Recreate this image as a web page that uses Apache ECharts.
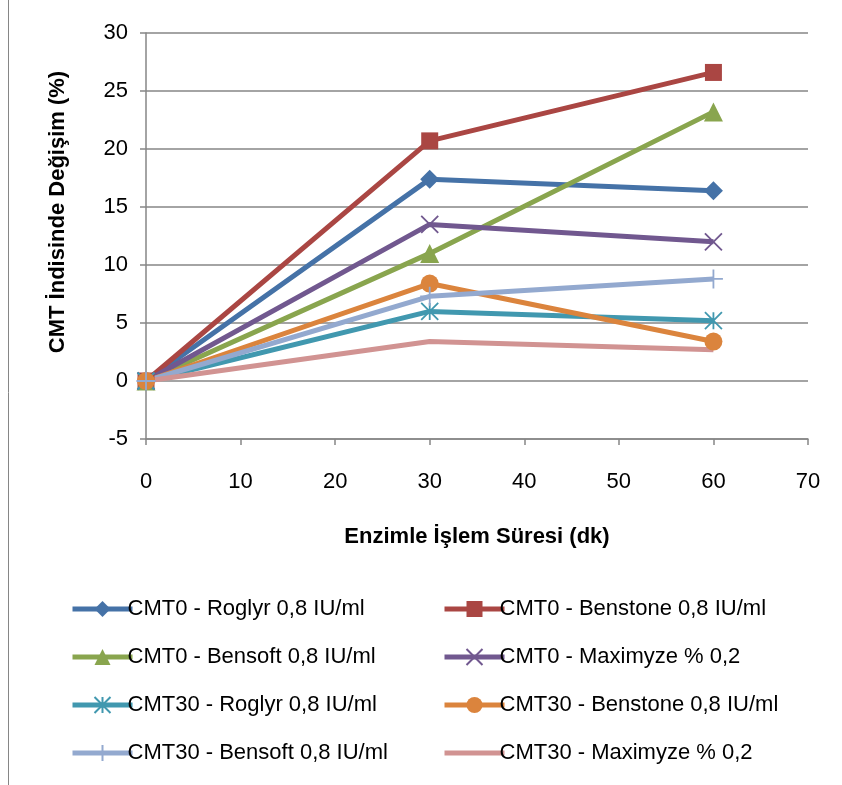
<!DOCTYPE html>
<html><head><meta charset="utf-8">
<script src="https://cdn.jsdelivr.net/npm/echarts@6/dist/echarts.min.js"></script>
<style>html,body{margin:0;padding:0;background:#fff}#c{width:842px;height:785px}</style>
</head><body><div id="c"></div>
<script>
const xValues = [0, 30, 60];
const seriesNames = [
  'CMT0 - Roglyr 0,8 IU/ml', 'CMT0 - Benstone 0,8 IU/ml',
  'CMT0 - Bensoft 0,8 IU/ml', 'CMT0 - Maximyze % 0,2',
  'CMT30 - Roglyr 0,8 IU/ml', 'CMT30 - Benstone 0,8 IU/ml',
  'CMT30 - Bensoft 0,8 IU/ml', 'CMT30 - Maximyze % 0,2'
];
const cmt0Roglyr = [0, 17.4, 16.4];
const cmt0Benstone = [0, 20.7, 26.6];
const cmt0Bensoft = [0, 11.0, 23.2];
const cmt0Maximyze = [0, 13.5, 12.0];
const cmt30Roglyr = [0, 6.0, 5.2];
const cmt30Benstone = [0, 8.4, 3.4];
const cmt30Bensoft = [0, 7.3, 8.8];
const cmt30Maximyze = [0, 3.4, 2.7];
const yTicks = [-5, 0, 5, 10, 15, 20, 25, 30];
const xTicks = [0, 10, 20, 30, 40, 50, 60, 70];
const xTitle = 'Enzimle İşlem Süresi (dk)';
const yTitle = 'CMT İndisinde Değişim (%)';

const allData = [cmt0Roglyr, cmt0Benstone, cmt0Bensoft, cmt0Maximyze, cmt30Roglyr, cmt30Benstone, cmt30Bensoft, cmt30Maximyze];
const colors = ['#4572A7', '#AA4643', '#89A54E', '#71588F', '#4198AF', '#DB843D', '#93A9CF', '#D19392'];
const symbols = [
  'diamond', 'rect', 'triangle',
  'path://M0,0 L10,10 M10,0 L0,10',
  'path://M0,0 L10,10 M10,0 L0,10 M5,0 L5,10',
  'circle',
  'path://M5,0 L5,10 M0,5 L10,5',
  'circle'
];
const sizes = [19, 17, 19, 17, 17, 18, 19, 0];
const stroked = [false, false, false, true, true, false, true, false];

const font = '"Liberation Sans", Arial, sans-serif';
const series = seriesNames.map((n, i) => ({
  name: n,
  type: 'line',
  data: xValues.map((x, j) => [x, allData[i][j]]),
  symbol: symbols[i],
  symbolSize: sizes[i],
  showSymbol: i !== 7,
  lineStyle: { color: colors[i], width: 5 },
  itemStyle: stroked[i]
    ? { color: 'rgba(0,0,0,0)', borderColor: colors[i], borderWidth: 1.8 }
    : (i === 7 ? { color: 'rgba(0,0,0,0)', borderWidth: 0 } : { color: colors[i], borderWidth: 0 }),
  emphasis: { disabled: true },
  animation: false
}));

const chart = echarts.init(document.getElementById('c'));
const legendCommon = {
  orient: 'vertical', top: 593, itemWidth: 60, itemHeight: 20, itemGap: 26,
  lineStyle: { width: 5 },
  textStyle: { fontFamily: font, fontSize: 22, color: '#000', padding: [0, 0, 0, -10] },
  selectedMode: false
};
chart.setOption({
  animation: false,
  color: colors,
  grid: { left: 146, right: 34, top: 33, bottom: 346, containLabel: false },
  xAxis: {
    type: 'value', min: 0, max: 70, interval: 10,
    name: xTitle, nameLocation: 'middle', nameGap: 87,
    nameTextStyle: { fontFamily: font, fontSize: 22, fontWeight: 'bold', color: '#000' },
    axisLine: { onZero: false, lineStyle: { color: '#868686', width: 1.5 } },
    axisTick: { show: true, length: 6, lineStyle: { color: '#868686', width: 1.5 } },
    axisLabel: { fontFamily: font, fontSize: 22, color: '#000', margin: 32,
      formatter: v => xTicks.includes(v) ? String(v) : '' },
    splitLine: { show: false }
  },
  yAxis: {
    type: 'value', min: -5, max: 30, interval: 5,
    axisLine: { show: true, onZero: false, lineStyle: { color: '#868686', width: 1.5 } },
    axisTick: { show: true, length: 6, lineStyle: { color: '#868686', width: 1.5 } },
    axisLabel: { fontFamily: font, fontSize: 22, color: '#000', margin: 18,
      formatter: v => yTicks.includes(v) ? String(v) : '' },
    splitLine: { show: true, lineStyle: { color: '#868686', width: 1.5 } }
  },
  legend: [
    Object.assign({ left: 65, data: seriesNames.filter((_, i) => i % 2 === 0) }, legendCommon),
    Object.assign({ left: 437, data: seriesNames.filter((_, i) => i % 2 === 1) }, legendCommon)
  ],
  graphic: [
    { type: 'line', shape: { x1: 8.5, y1: 0, x2: 8.5, y2: 785 }, style: { stroke: '#868686', lineWidth: 1 } },
    { type: 'text', x: 58, y: 212, rotation: Math.PI / 2,
      style: { text: yTitle, fontFamily: font, fontSize: 22, fontWeight: 'bold', fill: '#000',
        align: 'center', verticalAlign: 'middle' } }
  ],
  series: series
});
</script></body></html>
